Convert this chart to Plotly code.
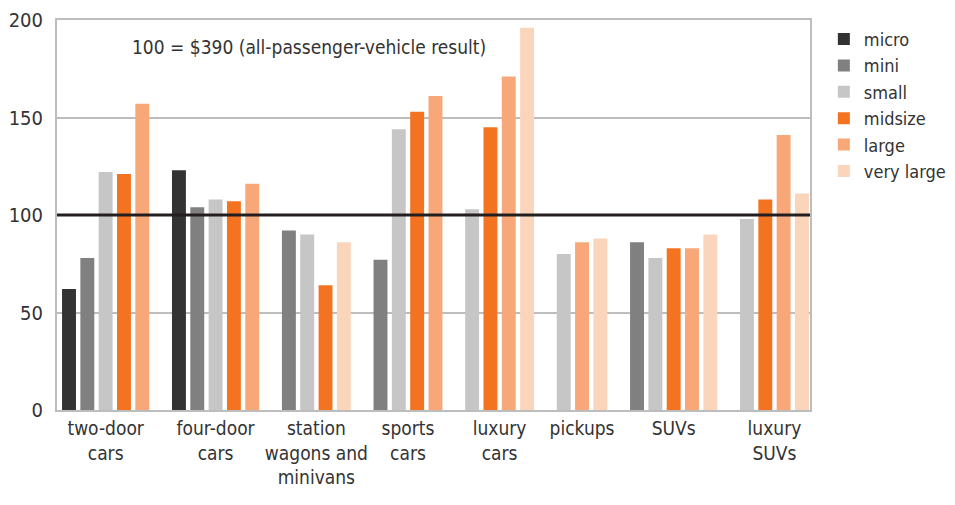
import plotly.graph_objects as go

# categories and size classes
CATEGORIES = ["two-door<br>cars", "four-door<br>cars", "station<br>wagons and<br>minivans",
              "sports<br>cars", "luxury<br>cars", "pickups", "SUVs", "luxury<br>SUVs"]
SIZES = ["micro", "mini", "small", "midsize", "large", "very large"]

micro = [62, 123, None, None, None, None, None, None]
mini = [78, 104, 92, 77, None, None, 86, None]
small = [122, 108, 90, 144, 103, 80, 78, 98]
midsize = [121, 107, 64, 153, 145, None, 83, 108]
large = [157, 116, None, 161, 171, 86, 83, 141]
very_large = [None, None, 86, None, 196, 88, 90, 111]

SERIES = [micro, mini, small, midsize, large, very_large]
COLORS = ["#333333", "#808080", "#c6c6c6", "#f47321", "#f8a878", "#fad5bb"]

FONT = "DejaVu Sans Condensed, Liberation Sans Narrow, sans-serif"
TEXT = "#333333"

# bars are packed inside each category (missing sizes leave no gap),
# with one empty slot between categories
slots = [[None] * len(CATEGORIES) for _ in SIZES]
centers = []
pos = 0
for c in range(len(CATEGORIES)):
    used = []
    for s, vals in enumerate(SERIES):
        if vals[c] is not None:
            slots[s][c] = pos
            used.append(pos)
            pos += 1
    centers.append(sum(used) / len(used))
    pos += 1
last_slot = pos - 2

fig = go.Figure()
for s, name in enumerate(SIZES):
    xs = [slots[s][c] for c in range(len(CATEGORIES)) if SERIES[s][c] is not None]
    ys = [v for v in SERIES[s] if v is not None]
    fig.add_trace(go.Bar(x=xs, y=ys, name=name, marker_color=COLORS[s],
                         marker_line_width=0, width=0.76))

fig.add_hline(y=100, line_color="#231f20", line_width=3, layer="above")

fig.add_annotation(text="100 = $390 (all-passenger-vehicle result)",
                   xref="paper", yref="paper", x=0.335, y=0.931,
                   xanchor="center", yanchor="middle",
                   showarrow=False, font=dict(size=19, color=TEXT, family=FONT))

# the page body adds an 8px offset, so margins are shifted to compensate
fig.update_layout(
    width=955, height=505,
    margin=dict(l=49, r=153, t=12, b=103, autoexpand=False),
    paper_bgcolor="white", plot_bgcolor="white",
    barmode="overlay",
    font=dict(family=FONT, size=19, color=TEXT),
    legend=dict(x=1.0184, y=0.998, xanchor="left", yanchor="top",
                font=dict(size=18, color=TEXT, family=FONT),
                tracegroupgap=0, itemwidth=30),
    showlegend=True,
)
fig.update_xaxes(range=[-0.655, last_slot + 0.44],
                 tickvals=centers, ticktext=CATEGORIES, tickangle=0,
                 automargin=False,
                 showgrid=False, zeroline=False, ticks="",
                 showline=True, linecolor="#bdbdbd", linewidth=2, mirror=True,
                 tickfont=dict(size=19, color=TEXT, family=FONT))
fig.update_yaxes(range=[0, 200], tickvals=[0, 50, 100, 150, 200],
                 automargin=False, ticklabeloverflow="allow",
                 showgrid=True, gridcolor="#bdbdbd", gridwidth=2,
                 zeroline=False, ticks="", ticklabelstandoff=8,
                 showline=True, linecolor="#bdbdbd", linewidth=2, mirror=True,
                 tickfont=dict(size=20, color=TEXT, family=FONT))

fig.write_html("out.html")
